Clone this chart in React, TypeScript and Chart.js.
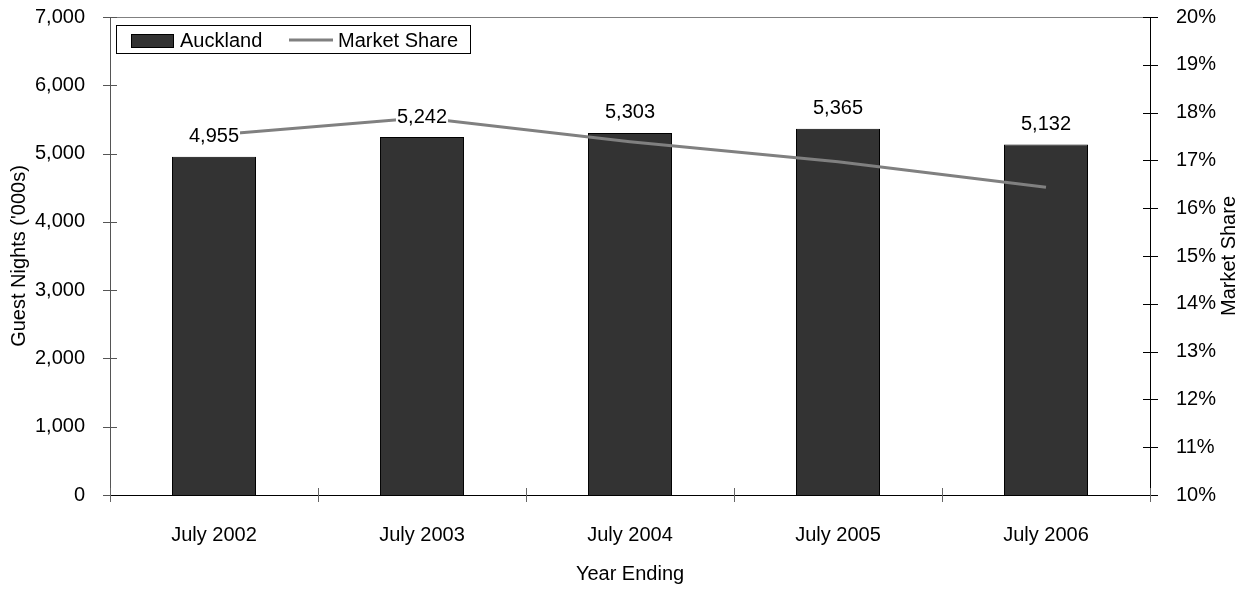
import React, { useEffect, useRef } from "react";
import { Chart, registerables } from "chart.js";

Chart.register(...registerables);

const categories = ["July 2002", "July 2003", "July 2004", "July 2005", "July 2006"];
const guestNights = [4955, 5242, 5303, 5365, 5132];
const marketShare = [17.53, 17.89, 17.39, 16.97, 16.44];
const leftTicks = [0, 1000, 2000, 3000, 4000, 5000, 6000, 7000];
const rightTicks = [10, 11, 12, 13, 14, 15, 16, 17, 18, 19, 20];

const FONT = "'Liberation Sans', Arial, Helvetica, sans-serif";
const FS = 20;

const zeroPad = (s: any) => {
  s.paddingTop = 0;
  s.paddingBottom = 0;
  s.paddingLeft = 0;
  s.paddingRight = 0;
};

const decorPlugin = {
  id: "decor",
  afterDatasetsDraw(chart: any) {
    const ctx = chart.ctx;
    const meta = chart.getDatasetMeta(0);
    ctx.save();
    ctx.font = `${FS}px ${FONT}`;
    ctx.textAlign = "center";
    ctx.textBaseline = "middle";
    meta.data.forEach((bar: any, i: number) => {
      const txt = guestNights[i].toLocaleString("en-US");
      const w = ctx.measureText(txt).width;
      const y = bar.y - 21;
      ctx.fillStyle = "#ffffff";
      ctx.fillRect(bar.x - w / 2 - 1, y - 8, w + 2, 16);
      ctx.fillStyle = "#000000";
      ctx.fillText(txt, bar.x, y + 1);
    });
    ctx.restore();
  },
  afterDraw(chart: any) {
    const ctx = chart.ctx;
    const a = chart.chartArea;
    const ys = chart.scales.y;
    const y1 = chart.scales.y1;
    const xs = chart.scales.x;
    ctx.save();
    // top border
    ctx.lineWidth = 1;
    ctx.strokeStyle = "#808080";
    ctx.beginPath();
    ctx.moveTo(a.left, a.top + 0.5);
    ctx.lineTo(a.right, a.top + 0.5);
    ctx.stroke();
    // left axis
    ctx.strokeStyle = "#555555";
    ctx.beginPath();
    ctx.moveTo(a.left + 0.5, a.top);
    ctx.lineTo(a.left + 0.5, a.bottom);
    leftTicks.forEach((v) => {
      const py = Math.round(ys.getPixelForValue(v)) + 0.5;
      ctx.moveTo(a.left - 7, py);
      ctx.lineTo(a.left + 7, py);
    });
    ctx.stroke();
    // right axis
    ctx.strokeStyle = "#000000";
    ctx.beginPath();
    ctx.moveTo(a.right + 0.5, a.top);
    ctx.lineTo(a.right + 0.5, a.bottom);
    rightTicks.forEach((v) => {
      const py = Math.round(y1.getPixelForValue(v)) + 0.5;
      ctx.moveTo(a.right - 7, py);
      ctx.lineTo(a.right + 8, py);
    });
    ctx.stroke();
    // x axis
    ctx.strokeStyle = "#000000";
    ctx.beginPath();
    ctx.moveTo(a.left, a.bottom + 0.5);
    ctx.lineTo(a.right, a.bottom + 0.5);
    ctx.stroke();
    ctx.strokeStyle = "#666666";
    ctx.beginPath();
    const n = categories.length;
    for (let i = 0; i <= n; i++) {
      const px = Math.round(xs.getPixelForValue(i - 0.5)) + 0.5;
      ctx.moveTo(px, a.bottom - 7);
      ctx.lineTo(px, a.bottom + 7);
    }
    ctx.stroke();

    // axis titles
    ctx.fillStyle = "#000000";
    ctx.font = `${FS}px ${FONT}`;
    ctx.textAlign = "center";
    ctx.textBaseline = "middle";
    ctx.fillText("Year Ending", (a.left + a.right) / 2, 574);
    ctx.save();
    ctx.translate(19, (a.top + a.bottom) / 2);
    ctx.rotate(-Math.PI / 2);
    ctx.fillText("Guest Nights ('000s)", 0, 0);
    ctx.restore();
    ctx.save();
    ctx.translate(1229, (a.top + a.bottom) / 2);
    ctx.rotate(-Math.PI / 2);
    ctx.fillText("Market Share", 0, 0);
    ctx.restore();

    // legend
    ctx.fillStyle = "#ffffff";
    ctx.fillRect(116, 25, 354, 28);
    ctx.strokeStyle = "#000000";
    ctx.lineWidth = 1;
    ctx.strokeRect(116.5, 25.5, 354, 28);
    ctx.fillStyle = "#333333";
    ctx.fillRect(131, 34, 43, 14);
    ctx.strokeRect(131.5, 34.5, 42, 13);
    ctx.strokeStyle = "#808080";
    ctx.lineWidth = 3;
    ctx.beginPath();
    ctx.moveTo(289, 40);
    ctx.lineTo(333, 40);
    ctx.stroke();
    ctx.fillStyle = "#000000";
    ctx.textAlign = "left";
    ctx.fillText("Auckland", 180, 41);
    ctx.fillText("Market Share", 338, 41);
    ctx.restore();
  },
};

export default function App() {
  const ref = useRef<HTMLCanvasElement | null>(null);
  useEffect(() => {
    if (!ref.current) return;
    const chart = new Chart(ref.current, {
      type: "bar",
      data: {
        labels: categories,
        datasets: [
          {
            type: "bar",
            label: "Auckland",
            data: guestNights,
            backgroundColor: "#333333",
            borderColor: "#000000",
            borderWidth: 1,
            barPercentage: 0.404,
            categoryPercentage: 1,
            yAxisID: "y",
            order: 2,
          },
          {
            type: "line",
            label: "Market Share",
            data: marketShare,
            borderColor: "#808080",
            borderWidth: 3,
            pointRadius: 0,
            tension: 0,
            fill: false,
            yAxisID: "y1",
            order: 1,
          } as any,
        ],
      },
      options: {
        responsive: false,
        animation: false,
        layout: { padding: { top: 17, left: 0, right: 0, bottom: 0 } },
        plugins: { legend: { display: false }, tooltip: { enabled: false } },
        scales: {
          x: {
            offset: true,
            grid: { display: false },
            border: { display: false },
            ticks: { color: "#000", font: { family: FONT, size: FS }, padding: 20, maxRotation: 0 },
            afterFit: (s: any) => { s.height = 95; zeroPad(s); },
          },
          y: {
            position: "left",
            min: 0,
            max: 7000,
            grid: { display: false },
            border: { display: false },
            ticks: {
              stepSize: 1000,
              color: "#000",
              font: { family: FONT, size: FS },
              padding: 17,
              callback: (v: any) => Number(v).toLocaleString("en-US"),
            },
            afterFit: (s: any) => { s.width = 110; zeroPad(s); },
          },
          y1: {
            position: "right",
            min: 10,
            max: 20,
            grid: { display: false },
            border: { display: false },
            ticks: {
              stepSize: 1,
              color: "#000",
              font: { family: FONT, size: FS },
              padding: 18,
              callback: (v: any) => `${v}%`,
            },
            afterFit: (s: any) => { s.width = 100; zeroPad(s); },
          },
        },
      },
      plugins: [decorPlugin],
    } as any);
    return () => chart.destroy();
  }, []);
  return (
    <div style={{ position: "absolute", left: 0, top: 0, width: 1250, height: 590, background: "#fff" }}>
      <canvas ref={ref} width={1250} height={590} />
    </div>
  );
}
